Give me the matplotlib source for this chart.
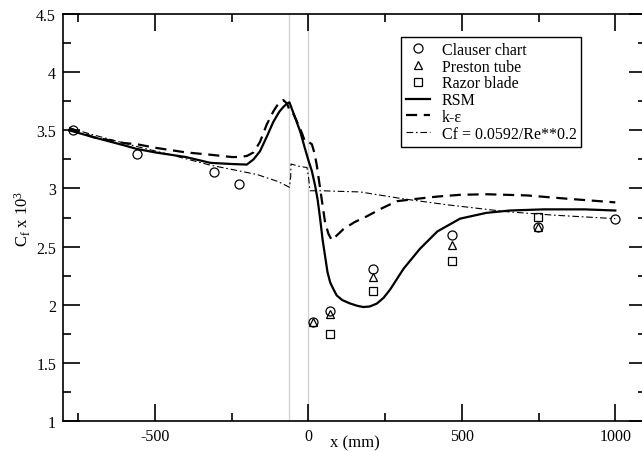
import numpy as np
import matplotlib
matplotlib.use("Agg")
import matplotlib.pyplot as plt

plt.rcParams['font.family'] = ['Liberation Serif', 'DejaVu Serif']
plt.rcParams['mathtext.fontset'] = 'custom'
plt.rcParams['mathtext.rm'] = 'Liberation Serif'
plt.rcParams['mathtext.it'] = 'Liberation Serif:italic'
plt.rcParams['axes.unicode_minus'] = False

# mesures
x_clauser = [-768, -560, -307, -225, 14, 69, 210, 469, 747, 1000]
cf_clauser = [3.50, 3.30, 3.145, 3.04, 1.85, 1.95, 2.31, 2.60, 2.67, 2.74]
x_preston = [14, 69, 210, 469, 747]
cf_preston = [1.85, 1.92, 2.24, 2.51, 2.67]
x_razor = [69, 210, 469, 747]
cf_razor = [1.75, 2.12, 2.38, 2.755]

# RSM
x_rsm = [-780, -700, -600, -560, -500, -400, -320, -250, -201, -179, -158, -135,
         -115, -95, -82, -70, -62, -45, -27, -10, 0, 11, 22, 30, 38, 46, 54, 62,
         71, 82, 92, 110, 136, 160, 179, 200, 223, 245, 266, 310, 363, 420, 494,
         580, 656, 766, 900, 1000]
cf_rsm = [3.50, 3.44, 3.37, 3.34, 3.31, 3.27, 3.22, 3.21, 3.205, 3.25, 3.32, 3.45,
          3.57, 3.66, 3.70, 3.73, 3.74, 3.62, 3.49, 3.33, 3.24, 3.15, 3.02, 2.90,
          2.74, 2.56, 2.42, 2.28, 2.19, 2.13, 2.08, 2.04, 2.01, 1.99, 1.98, 1.985,
          2.01, 2.06, 2.13, 2.31, 2.48, 2.63, 2.74, 2.79, 2.81, 2.82, 2.82, 2.81]

# k-epsilon
x_ke = [-780, -700, -600, -559, -500, -400, -320, -250, -222, -200, -179, -158,
        -136, -115, -103, -90, -82, -70, -60, -49, -35, -22, -11, 0, 11, 20, 27,
        38, 44, 54, 65, 76, 90, 114, 150, 190, 240, 288, 350, 420, 494, 580, 711,
        850, 1000]
cf_ke = [3.52, 3.44, 3.39, 3.38, 3.35, 3.31, 3.29, 3.27, 3.27, 3.28, 3.31, 3.40,
         3.55, 3.66, 3.71, 3.75, 3.76, 3.73, 3.66, 3.64, 3.56, 3.48, 3.40, 3.40,
         3.38, 3.30, 3.20, 3.00, 2.89, 2.71, 2.61, 2.555, 2.59, 2.65, 2.71, 2.76,
         2.83, 2.89, 2.91, 2.93, 2.945, 2.95, 2.94, 2.91, 2.88]

# Cf = 0.0592/Re**0.2
x_corr = [-780, -700, -559, -450, -320, -168, -100, -62, -58, -57, -30, -5, 0,
          5, 11, 44, 100, 168, 310, 450, 646, 800, 1000]
cf_corr = [3.52, 3.46, 3.36, 3.29, 3.20, 3.12, 3.06, 3.01, 3.10, 3.21, 3.19,
           3.18, 3.10, 2.98, 2.98, 2.98, 2.975, 2.97, 2.91, 2.86, 2.80, 2.77, 2.74]

fig = plt.figure(figsize=(6.42, 4.52), dpi=100)
ax = fig.add_axes([63/642, 1-422/452, (646-63)/642, (422-15)/452])

ax.axvline(-62, color='#d4d4d4', lw=1, zorder=0)
ax.axvline(0, color='#d4d4d4', lw=1, zorder=0)

h1, = ax.plot(x_clauser, cf_clauser, 'o', mfc='none', mec='black', ms=6.5, mew=0.9, ls='none')
h2, = ax.plot(x_preston, cf_preston, '^', mfc='none', mec='black', ms=6, mew=0.9, ls='none')
h3, = ax.plot(x_razor, cf_razor, 's', mfc='none', mec='black', ms=5.5, mew=0.9, ls='none')
h4, = ax.plot(x_rsm, cf_rsm, '-', color='black', lw=1.6)
h5, = ax.plot(x_ke, cf_ke, '--', color='black', lw=1.6, dashes=(5, 3))
h6, = ax.plot(x_corr, cf_corr, '-.', color='black', lw=0.8, dashes=(6, 2.5, 1.5, 2.5))

ax.set_xlim(-800, 1100)
ax.set_ylim(1, 4.5)
ax.set_xticks([-500, 0, 500, 1000])
ax.set_xticks([-750, -250, 250, 750], minor=True)
ax.set_yticks([1, 1.5, 2, 2.5, 3, 3.5, 4, 4.5])
ax.set_yticklabels(['1', '1.5', '2', '2.5', '3', '3.5', '4', '4.5'])
ax.set_yticks(np.arange(1.25, 4.5, 0.5), minor=True)
ax.tick_params(which='both', direction='in', top=True, right=True, labelsize=11.5, width=1.2)
ax.tick_params(which='major', length=12, pad=5)
ax.tick_params(which='minor', length=6)
for s in ax.spines.values():
    s.set_linewidth(1.2)

ax.set_xlabel('x (mm)', fontsize=12, va='center')
ax.xaxis.set_label_coords(0.5, -(443-422)/407)
ax.set_ylabel(r'C$_\mathrm{f}$ x 10$^3$', fontsize=12, labelpad=2)

leg = ax.legend([h1, h2, h3, h4, h5, h6],
                ['Clauser chart', 'Preston tube', 'Razor blade', 'RSM', 'k-\u03b5',
                 'Cf = 0.0592/Re**0.2'],
                loc='upper left', bbox_to_anchor=(401/642, 1-38/452),
                bbox_transform=fig.transFigure, fontsize=11.5, frameon=True,
                fancybox=False, edgecolor='black', framealpha=1,
                handlelength=1.5, handletextpad=0.75, labelspacing=0.05,
                borderpad=0.3, borderaxespad=0)
leg.get_frame().set_linewidth(1)

plt.savefig('out.png', dpi=100)
